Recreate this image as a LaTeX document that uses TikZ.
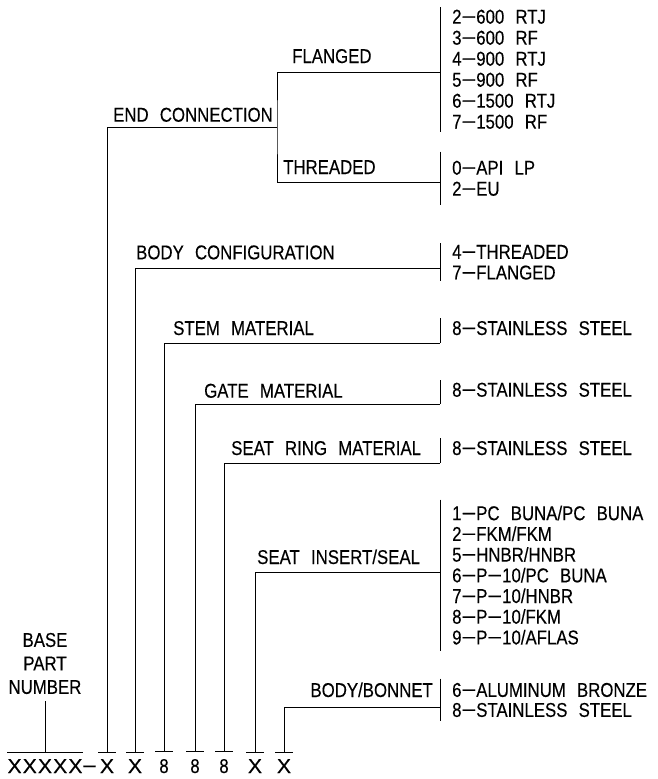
\documentclass[tikz,border=0pt]{standalone}
\usepackage{fontspec}
\setmainfont{Liberation Sans}[FakeStretch=0.84,WordSpace=2.4,FakeBold=0.3]
\usepackage{graphicx}
\usepackage{tikz}
\usetikzlibrary{positioning}

\newcommand{\wideX}{\scalebox{1.25}[1]{X}}
\newcommand{\dsh}{\scalebox{1.5}[1]{−}}

\begin{document}
\begin{tikzpicture}[
    x=1pt, y=-1pt,
    font=\fontsize{20}{21}\selectfont,
    lab/.style={
        inner sep=0pt,
        anchor=base west
    },
    opt/.style={
        inner xsep=12pt,
        inner ysep=2.5pt,
        align=left,
        anchor=north west
    },
    digit/.style={
        inner xsep=0pt,
        inner ysep=7pt,
        minimum width=17pt,
        anchor=base
    },
    wire/.style={
        line width=0.9pt
    }
]
\useasboundingbox (0,0) rectangle (658,779);

% part number
\node[digit, minimum width=70pt] (xbase) at (45,773)
{\wideX\kern1.2pt\wideX\kern1.2pt\wideX\kern1.2pt\wideX\kern1.2pt\wideX};
\node[lab, anchor=base] (xdash) at (89.5,773) {\dsh};
\node[digit] (d1) at (107,773) {\wideX};
\node[digit] (d2) at (135,773) {\wideX};
\node[digit] (d3) at (164,773) {8};
\node[digit] (d4) at (195,773) {8};
\node[digit] (d5) at (224,773) {8};
\node[digit] (d6) at (255,773) {\wideX};
\node[digit] (d7) at (284,773) {\wideX};

\foreach \d in {xbase,d1,d2,d3,d4,d5,d6,d7}
    \draw[wire] (\d.north west) -- (\d.north east);

\node[align=center, inner sep=0pt, inner ysep=7pt, anchor=north,
      font=\fontsize{20}{23.5}\selectfont] (bpn) at (45,625.7)
{BASE\\PART\\NUMBER};
\draw[wire] (bpn.south) -- (xbase.north);

% field labels
\node[lab] (lend) at (113,121.7) {END CONNECTION};
\node[lab] (lflg) at (292,63) {FLANGED};
\node[lab] (lthr) at (283,174) {THREADED};
\node[lab] (lbody) at (136,259.3) {BODY CONFIGURATION};
\node[lab] (lstem) at (173,335) {STEM MATERIAL};
\node[lab] (lgate) at (204,397.7) {GATE MATERIAL};
\node[lab] (lring) at (231,455) {SEAT RING MATERIAL};
\node[lab] (lseat) at (257,564) {SEAT INSERT/SEAL};
\node[lab, anchor=base east] (lbonnet) at (433,697) {BODY/BONNET};

% option lists
\node[opt] (oflg) at (440,7)
{2\dsh600 RTJ\\3\dsh600 RF\\4\dsh900 RTJ\\5\dsh900 RF\\6\dsh1500 RTJ\\7\dsh1500 RF};
\node[opt, inner ysep=9pt] (othr) at (440,151.5)
{0\dsh API LP\\2\dsh EU};
\node[opt, inner ysep=1.5pt, font=\fontsize{20}{20.7}\selectfont] (obody) at (440,243.3)
{4\dsh THREADED\\7\dsh FLANGED};
\node[opt, anchor=base west] (ostem) at (440,335) {8\dsh STAINLESS STEEL};
\node[opt, anchor=base west] (ogate) at (440,396.7) {8\dsh STAINLESS STEEL};
\node[opt, anchor=base west] (oring) at (440,455) {8\dsh STAINLESS STEEL};
\node[opt, inner ysep=6pt, font=\fontsize{20}{20.7}\selectfont] (oseat) at (440,499.5)
{1\dsh PC BUNA/PC BUNA\\2\dsh FKM/FKM\\5\dsh HNBR/HNBR\\6\dsh P\dsh10/PC BUNA\\7\dsh P\dsh10/HNBR\\8\dsh P\dsh10/FKM\\9\dsh P\dsh10/AFLAS};
\node[opt, inner ysep=4pt, font=\fontsize{20}{20}\selectfont] (obonnet) at (440,678.7)
{6\dsh ALUMINUM BRONZE\\8\dsh STAINLESS STEEL};

% junctions on the option bars
\coordinate (jend) at (277,127);
\coordinate (jflg) at (440,72);
\coordinate (jthr) at (440,182);
\coordinate (jbody) at (440,268);
\coordinate (jstem) at (440,343.3);
\coordinate (jgate) at (440,404);
\coordinate (jring) at (440,463.3);
\coordinate (jseat) at (440,572);
\coordinate (jbonnet) at (440,707);

\foreach \o in {oflg,othr,obody,oseat,obonnet}
    \draw[wire] (\o.north west) -- (\o.south west);
\draw[wire] (ostem.north west) -- (jstem);
\draw[wire] (ogate.north west) -- (jgate);
\draw[wire] (oring.north west) -- (jring);

% leaders
\draw[wire] (d1.north) |- (jend);
\draw[wire] (jflg) -| (jend) |- (jthr);
\draw[wire] (d2.north) |- (jbody);
\draw[wire] (d3.north) |- (jstem);
\draw[wire] (d4.north) |- (jgate);
\draw[wire] (d5.north) |- (jring);
\draw[wire] (d6.north) |- (jseat);
\draw[wire] (d7.north) |- (jbonnet);

\end{tikzpicture}
\end{document}
